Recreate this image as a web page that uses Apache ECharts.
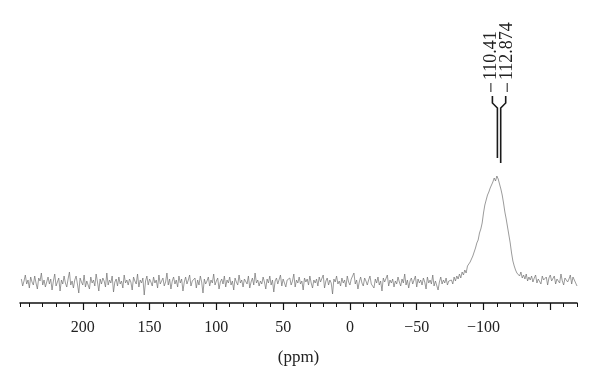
<!DOCTYPE html>
<html>
<head>
<meta charset="utf-8">
<script src="https://cdn.jsdelivr.net/npm/echarts@6/dist/echarts.min.js"></script>
<style>
  html, body { margin: 0; padding: 0; background: #fff; }
  #chart { width: 600px; height: 384px; }
</style>
</head>
<body>
<div id="chart"></div>
<script>
// chemical shift (ppm) of each sample, high to low
const ppm = [
  246, 245, 244, 243, 242, 241, 240, 239, 238, 237, 236, 235, 234, 233, 232, 231, 230, 229, 228, 227,
  226, 225, 224, 223, 222, 221, 220, 219, 218, 217, 216, 215, 214, 213, 212, 211, 210, 209, 208, 207,
  206, 205, 204, 203, 202, 201, 200, 199, 198, 197, 196, 195, 194, 193, 192, 191, 190, 189, 188, 187,
  186, 185, 184, 183, 182, 181, 180, 179, 178, 177, 176, 175, 174, 173, 172, 171, 170, 169, 168, 167,
  166, 165, 164, 163, 162, 161, 160, 159, 158, 157, 156, 155, 154, 153, 152, 151, 150, 149, 148, 147,
  146, 145, 144, 143, 142, 141, 140, 139, 138, 137, 136, 135, 134, 133, 132, 131, 130, 129, 128, 127,
  126, 125, 124, 123, 122, 121, 120, 119, 118, 117, 116, 115, 114, 113, 112, 111, 110, 109, 108, 107,
  106, 105, 104, 103, 102, 101, 100, 99, 98, 97, 96, 95, 94, 93, 92, 91, 90, 89, 88, 87,
  86, 85, 84, 83, 82, 81, 80, 79, 78, 77, 76, 75, 74, 73, 72, 71, 70, 69, 68, 67,
  66, 65, 64, 63, 62, 61, 60, 59, 58, 57, 56, 55, 54, 53, 52, 51, 50, 49, 48, 47,
  46, 45, 44, 43, 42, 41, 40, 39, 38, 37, 36, 35, 34, 33, 32, 31, 30, 29, 28, 27,
  26, 25, 24, 23, 22, 21, 20, 19, 18, 17, 16, 15, 14, 13, 12, 11, 10, 9, 8, 7,
  6, 5, 4, 3, 2, 1, 0, -1, -2, -3, -4, -5, -6, -7, -8, -9, -10, -11, -12, -13,
  -14, -15, -16, -17, -18, -19, -20, -21, -22, -23, -24, -25, -26, -27, -28, -29, -30, -31, -32, -33,
  -34, -35, -36, -37, -38, -39, -40, -41, -42, -43, -44, -45, -46, -47, -48, -49, -50, -51, -52, -53,
  -54, -55, -56, -57, -58, -59, -60, -61, -62, -63, -64, -65, -66, -67, -68, -69, -70, -71, -72, -73,
  -74, -75, -76, -77, -78, -79, -80, -81, -82, -83, -84, -85, -86, -87, -88, -89, -90, -91, -92, -93,
  -94, -95, -96, -97, -98, -99, -100, -101, -102, -103, -104, -105, -106, -107, -108, -109, -110, -111, -112, -113,
  -114, -115, -116, -117, -118, -119, -120, -121, -122, -123, -124, -125, -126, -127, -128, -129, -130, -131, -132, -133,
  -134, -135, -136, -137, -138, -139, -140, -141, -142, -143, -144, -145, -146, -147, -148, -149, -150, -151, -152, -153,
  -154, -155, -156, -157, -158, -159, -160, -161, -162, -163, -164, -165, -166, -167, -168, -169, -170
]
// signal intensity (arbitrary units)
const intensity = [
  24, 17, 22, 28, 19, 23, 15, 26, 21, 18, 27, 20, 14, 25, 22, 30, 18, 23, 16, 21,
  26, 19, 24, 13, 22, 29, 17, 21, 25, 12, 23, 19, 27, 20, 16, 24, 31, 18, 22, 15,
  23, 27, 19, 10, 25, 21, 18, 28, 16, 22, 24, 14, 26, 20, 23, 17, 29, 21, 12, 24,
  19, 25, 22, 16, 30, 18, 23, 20, 27, 11, 21, 24, 17, 26, 19, 22, 15, 28, 20, 23,
  18, 24, 21, 13, 26, 22, 19, 29, 16, 23, 20, 25, 8, 22, 27, 18, 24, 21, 17, 26,
  20, 23, 15, 28, 19, 22, 25, 17, 21, 30, 18, 24, 14, 22, 26, 19, 23, 16, 27, 20,
  24, 12, 21, 26, 19, 23, 28, 17, 22, 20, 25, 15, 23, 18, 27, 21, 10, 24, 19, 22,
  26, 17, 23, 20, 29, 18, 22, 25, 14, 21, 24, 19, 27, 16, 23, 20, 26, 18, 22, 13,
  25, 21, 18, 28, 20, 23, 16, 24, 22, 19, 27, 15, 21, 25, 18, 30, 20, 23, 17, 22,
  19, 26, 21, 14, 24, 20, 27, 18, 23, 11, 22, 25, 19, 21, 28, 17, 24, 20, 16, 23,
  21, 25, 18, 22, 29, 16, 23, 20, 26, 19, 22, 13, 25, 21, 24, 18, 27, 20, 15, 23,
  20, 24, 17, 26, 21, 19, 28, 15, 22, 25, 18, 23, 20, 9, 24, 21, 27, 19, 22, 17,
  25, 20, 23, 16, 27, 21, 18, 24, 22, 30, 19, 23, 14, 21, 26, 20, 17, 25, 22, 18,
  23, 27, 19, 21, 15, 24, 20, 26, 18, 22, 12, 25, 21, 19, 28, 17, 23, 20, 24, 16,
  22, 19, 26, 21, 17, 24, 20, 29, 18, 23, 15, 22, 25, 19, 21, 27, 16, 24, 20, 23,
  18, 25, 21, 14, 26, 20, 23, 19, 28, 17, 22, 24, 13, 21, 26, 19, 23, 20, 25, 18,
  22, 20,
  23, 19, 26, 22, 27, 24, 29, 25, 31, 28,
  33, 30, 37, 35, 41, 44, 47, 51, 55, 60,
  63, 70, 74, 80, 90, 98, 103, 108, 111, 115,
  117, 121, 125, 122, 127, 124, 119, 114, 108, 100,
  91, 84, 76, 68, 60, 50, 42, 37, 33, 30,
  30, 27, 31, 25, 28, 24, 29, 22, 26, 23,
  27, 21, 25, 28, 20, 24, 26, 19, 27, 23,
  21, 26, 18, 25, 28, 22, 20, 27, 19, 24,
  26, 20, 29, 22, 18, 25, 27, 21, 24, 28,
  19, 26, 23, 20, 17
]
const tickLabels = [200, 150, 100, 50, 0, -50, -100]
const majorTicks = [200, 150, 100, 50, 0, -50, -100, -150]
const peakLabels = ['110.41', '112.874']
const peakShifts = [-110.41, -112.874]

const serif = '"Liberation Serif", "DejaVu Serif", serif'

let chart = echarts.init(document.getElementById('chart'))
chart.setOption({
  animation: false,
  backgroundColor: '#fff',
  grid: { left: 20, right: 23, top: 20, bottom: 81 },
  xAxis: [
    {
      type: 'value',
      inverse: true,
      min: -170,
      max: 247,
      name: '(ppm)',
      nameLocation: 'middle',
      nameGap: 46,
      nameTextStyle: { fontFamily: serif, fontSize: 17, color: '#222' },
      splitLine: { show: false },
      axisLine: { lineStyle: { color: '#111', width: 1.5 } },
      axisTick: {
        customValues: majorTicks,
        length: 7,
        lineStyle: { color: '#111', width: 1.2 }
      },
      axisLabel: {
        customValues: tickLabels,
        margin: 17,
        fontFamily: serif,
        fontSize: 16,
        color: '#222',
        formatter: v => (v < 0 ? '\u2212' + (-v) : String(v))
      }
    },
    {
      type: 'value',
      inverse: true,
      min: -170,
      max: 247,
      interval: 10,
      position: 'bottom',
      splitLine: { show: false },
      axisLine: { show: false },
      axisLabel: { show: false },
      axisTick: { length: 4, lineStyle: { color: '#111', width: 1 } }
    }
  ],
  yAxis: {
    type: 'value',
    min: 0,
    max: 283,
    show: false
  },
  series: [
    {
      type: 'line',
      xAxisIndex: 0,
      data: ppm.map((p, i) => [p, intensity[i]]),
      showSymbol: false,
      lineStyle: { color: '#707070', width: 0.7 }
    }
  ]
})

// peak annotation: two sticks with a bracket and rotated labels
let gfx = []
peakShifts.forEach((s, k) => {
  let x = chart.convertToPixel({ xAxisIndex: 0 }, s)
  let bottom = chart.convertToPixel({ yAxisIndex: 0 }, k === 0 ? 145 : 140)
  let side = k === 0 ? -5 : 5
  gfx.push({
    type: 'polyline',
    shape: { points: [[x, bottom], [x, 108], [x + side, 103], [x + side, 96]] },
    style: { stroke: '#1a1a1a', lineWidth: 1.6, fill: null }
  })
  gfx.push({
    type: 'line',
    shape: { x1: x + side * 1.3, y1: 92, x2: x + side * 1.3, y2: 83 },
    style: { stroke: '#1a1a1a', lineWidth: 1 }
  })
  gfx.push({
    type: 'text',
    x: x + side * 1.3,
    y: 80,
    rotation: Math.PI / 2,
    style: {
      text: peakLabels[k],
      x: 0,
      y: 0,
      fill: '#222',
      font: '18px ' + serif,
      textAlign: 'left',
      textVerticalAlign: 'middle'
    }
  })
})
chart.setOption({ graphic: gfx })
</script>
</body>
</html>
